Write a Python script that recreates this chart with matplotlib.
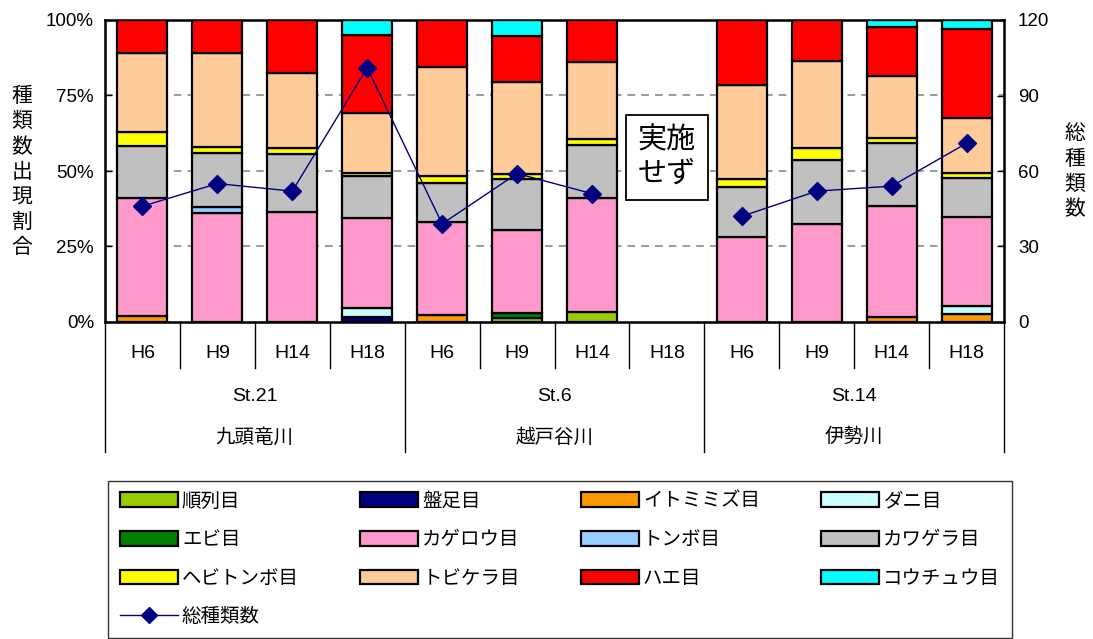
import numpy as np
import matplotlib
matplotlib.use("Agg")
import matplotlib.pyplot as plt
from matplotlib.patches import Patch
from matplotlib.lines import Line2D
import matplotlib.transforms as mtransforms

plt.rcParams['font.family'] = ['Liberation Sans', 'Noto Sans CJK JP', 'DejaVu Sans']

# data
years = ['H6', 'H9', 'H14', 'H18'] * 3
stations = ['St.21', 'St.6', 'St.14']
rivers = ['九頭竜川', '越戸谷川', '伊勢川']

orders = ['順列目', '盤足目', 'イトミミズ目', 'ダニ目',
          'エビ目', 'カゲロウ目', 'トンボ目', 'カワゲラ目',
          'ヘビトンボ目', 'トビケラ目', 'ハエ目', 'コウチュウ目']
colors = ['#99CC00', '#000080', '#FF9900', '#CCFFFF',
          '#008000', '#FF99CC', '#99CCFF', '#C0C0C0',
          '#FFFF00', '#FFCC99', '#FF0000', '#00FFFF']

junretsu   = [0, 0, 0, 0,    0,   1.2, 3.4, 0, 0, 0, 0, 0]
bansoku    = [0, 0, 0, 1.5,  0,   0,   0,   0, 0, 0, 0, 0]
itomimizu  = [2.0, 0, 0, 0,  2.3, 0,   0,   0, 0, 0, 1.8, 2.5]
dani       = [0, 0, 0, 3.2,  0,   0,   0,   0, 0, 0, 0, 2.8]
ebi        = [0, 0, 0, 0,    0,   1.7, 0,   0, 0, 0, 0, 0]
kagerou    = [39.2, 36.0, 36.3, 29.6, 30.7, 27.6, 37.6, 0, 28.3, 32.3, 36.7, 29.6]
tonbo      = [0, 2.0, 0, 0,  0,   0,   0,   0, 0, 0, 0, 0]
kawagera   = [17.2, 17.9, 19.2, 14.2, 12.9, 16.9, 17.6, 0, 16.5, 21.3, 20.7, 12.7]
hebitonbo  = [4.4, 2.2, 2.0, 0.8, 2.4, 1.6, 2.0, 0, 2.6, 3.9, 1.6, 1.6]
tobikera   = [26.2, 30.9, 25.1, 19.8, 36.2, 30.4, 25.4, 0, 31.1, 28.9, 20.7, 18.2]
hae        = [11.0, 11.0, 17.4, 25.9, 15.5, 15.3, 14.0, 0, 21.5, 13.6, 16.3, 29.5]
kouchuu    = [0, 0, 0, 5.0,  0,   5.3, 0,   0, 0, 0, 2.2, 3.1]

total_species = [46, 55, 52, 101, 39, 59, 51, np.nan, 42, 52, 54, 71]

series = [junretsu, bansoku, itomimizu, dani, ebi, kagerou, tonbo,
          kawagera, hebitonbo, tobikera, hae, kouchuu]

fig = plt.figure(figsize=(10.93, 6.39), dpi=100)
W, H = 1093, 639
ax = fig.add_axes([105/W, 1 - 322/H, 899/W, 302/H])

x = np.arange(len(years))
bottom = np.zeros(len(years))
for name, vals, c in zip(orders, series, colors):
    vals = np.array(vals, dtype=float)
    m = vals > 0
    ax.bar(x[m], vals[m], width=0.667, bottom=bottom[m], color=c,
           edgecolor='black', linewidth=1.6, zorder=3)
    bottom += vals

ax.set_xlim(-0.5, 11.5)
ax.set_ylim(0, 100)
ax.set_yticks([0, 25, 50, 75, 100])
ax.set_yticklabels(['0%', '25%', '50%', '75%', '100%'], fontsize=13.5)
ax.set_xticks([])
for yv in [25, 50, 75]:
    ax.axhline(yv, color='#808080', ls=(0, (5, 4)), lw=1.1, zorder=1)
ax.tick_params(axis='y', direction='in', length=5, width=1, pad=8)
for s in ax.spines.values():
    s.set_linewidth(1.8)

ax2 = ax.twinx()
ax2.set_ylim(0, 120)
ax2.set_yticks([0, 30, 60, 90, 120])
ax2.tick_params(axis='y', direction='in', length=5, width=1, pad=10, labelsize=13.5)
ax2.plot(x, total_species, color='#000080', lw=1, marker='D', ms=9,
         markerfacecolor='#000080', markeredgecolor='#000080', zorder=5)
ax2.set_xlim(-0.5, 11.5)

# not surveyed box
ax.text(7, 54.5, '実施\nせず', ha='center', va='center', fontsize=21,
        linespacing=1.25, zorder=6,
        bbox=dict(boxstyle='square,pad=0.4', fc='white', ec='black', lw=1.3))

# category axis below
tr = mtransforms.blended_transform_factory(ax.transData, ax.transAxes)
for i in range(len(years)):
    ax.text(i, -0.103, years[i], transform=tr, ha='center', va='center', fontsize=14)
for b in np.arange(0.5, 11, 1):
    if b in (3.5, 7.5):
        continue
    ax.plot([b, b], [0, -0.152], transform=tr, color='black', lw=1, clip_on=False)
for b in [-0.5, 3.5, 7.5, 11.5]:
    ax.plot([b, b], [0, -0.43], transform=tr, color='black', lw=1, clip_on=False)
for g in range(3):
    ax.text(g * 4 + 1.5, -0.248, stations[g], transform=tr, ha='center', va='center', fontsize=14)
    ax.text(g * 4 + 1.5, -0.381, rivers[g], transform=tr, ha='center', va='center', fontsize=14)

fig.text(22/W, 1 - 172/H, '\n'.join('種類数出現割合'), ha='center', va='center',
         fontsize=15, linespacing=1.4)
fig.text(1075/W, 1 - 172/H, '\n'.join('総種類数'), ha='center', va='center',
         fontsize=15, linespacing=1.4)

# legend, arranged so that it reads row by row like the original
patches = [Patch(facecolor=c, edgecolor='black', linewidth=1.6) for c in colors]
line_h = Line2D([], [], color='#000080', lw=1, marker='D', ms=8,
                markerfacecolor='#000080')
idx_cols = [[0, 4, 8, 12], [1, 5, 9], [2, 6, 10], [3, 7, 11]]
handles, labels = [], []
for col in idx_cols:
    for i in col:
        if i == 12:
            handles.append(line_h)
            labels.append('総種類数')
        else:
            handles.append(patches[i])
            labels.append(orders[i])
leg = fig.legend(handles, labels, loc='lower left', ncol=4,
                 bbox_to_anchor=(108/W, 1 - 638/H, 904/W, 160/H), mode='expand',
                 fontsize=14, frameon=True, fancybox=False, edgecolor='black',
                 handlelength=3.0, handleheight=0.8, handletextpad=0.2,
                 labelspacing=1.05, borderpad=0.6, borderaxespad=0)
leg.get_frame().set_linewidth(1)

fig.savefig('out.png', dpi=100)
